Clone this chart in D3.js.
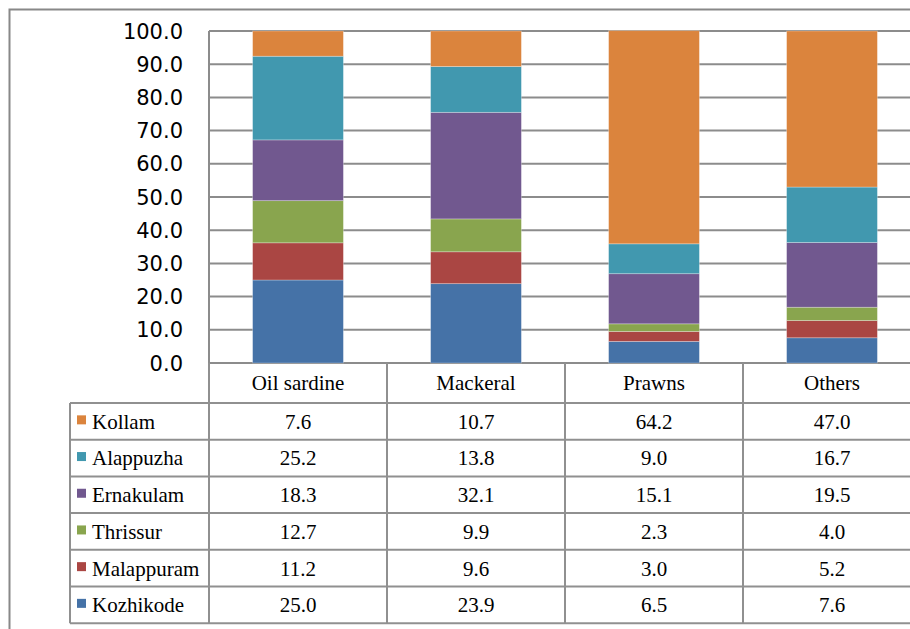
<!DOCTYPE html>
<html><head><meta charset="utf-8">
<script src="https://cdn.jsdelivr.net/npm/d3@7"></script>
<style>
body{margin:0;background:#fff}svg{display:block}
.serif{font-family:"Liberation Serif","Times New Roman",Times,"DejaVu Serif","Noto Serif",serif;font-size:21px;fill:#000}
.ylab{font-family:"DejaVu Sans","Liberation Sans",sans-serif;font-size:21px;fill:#000}
</style>
</head><body>
<script>
const categories = ["Oil sardine", "Mackeral", "Prawns", "Others"];
const seriesNames = ["Kollam", "Alappuzha", "Ernakulam", "Thrissur", "Malappuram", "Kozhikode"];
const kollam     = [7.6, 10.7, 64.2, 47.0];
const alappuzha  = [25.2, 13.8, 9.0, 16.7];
const ernakulam  = [18.3, 32.1, 15.1, 19.5];
const thrissur   = [12.7, 9.9, 2.3, 4.0];
const malappuram = [11.2, 9.6, 3.0, 5.2];
const kozhikode  = [25.0, 23.9, 6.5, 7.6];
const colors = ["#DB843D", "#4198AF", "#71588F", "#89A54E", "#AA4643", "#4572A7"];
const yTicks = [0, 10, 20, 30, 40, 50, 60, 70, 80, 90, 100];

const seriesValues = [kollam, alappuzha, ernakulam, thrissur, malappuram, kozhikode];
const W = 910, H = 629;
const svg = d3.select("body").append("svg").attr("width", W).attr("height", H);

// outer chart border
svg.append("rect").attr("x", 9.5).attr("y", 9.5).attr("width", W + 20).attr("height", H + 20)
  .attr("fill", "none").attr("stroke", "#888").attr("stroke-width", 2);

const plotL = 209, plotR = 921, plotT = 31, plotB = 363;
const x = d3.scaleBand().domain(categories).range([plotL, plotR]).paddingInner(0).paddingOuter(0);
const y = d3.scaleLinear().domain([0, 100]).range([plotB, plotT]);
const barW = x.bandwidth() * 0.51;

// gridlines
svg.append("g").selectAll("line").data(yTicks).join("line")
  .attr("x1", plotL).attr("x2", W).attr("y1", d => y(d)).attr("y2", d => y(d))
  .attr("stroke", "#8c8c8c").attr("stroke-width", 2);

// y axis labels
svg.append("g").selectAll("text").data(yTicks).join("text")
  .attr("class", "ylab")
  .attr("x", 183).attr("y", d => y(d)).attr("dy", "0.36em")
  .attr("text-anchor", "end").text(d => d.toFixed(1));

// stacked bars (bottom series = Kozhikode)
const stackOrder = seriesNames.map((n, i) => i).reverse();
categories.forEach((c, ci) => {
  let cum = 0;
  stackOrder.forEach(si => {
    const v = seriesValues[si][ci];
    svg.append("rect")
      .attr("x", x(c) + (x.bandwidth() - barW) / 2).attr("width", barW)
      .attr("y", y(cum + v)).attr("height", y(cum) - y(cum + v))
      .attr("fill", colors[si]).attr("stroke", "rgba(255,255,255,0.35)").attr("stroke-width", 0.8);
    cum += v;
  });
});

// y axis line
svg.append("line").attr("x1", plotL).attr("x2", plotL).attr("y1", plotT).attr("y2", plotB)
  .attr("stroke", "#8c8c8c").attr("stroke-width", 2);

// data table
const tableL = 70, headB = 403, rowH = 36.7;
const tbl = svg.append("g");
const rowYs = d3.range(seriesNames.length + 1).map(i => headB + i * rowH);
const lineC = "#909090";
tbl.selectAll("line.h").data(rowYs).join("line")
  .attr("x1", tableL).attr("x2", W).attr("y1", d => d).attr("y2", d => d)
  .attr("stroke", lineC).attr("stroke-width", 2);
categories.forEach(c => {
  tbl.append("line").attr("x1", x(c)).attr("x2", x(c)).attr("y1", plotB).attr("y2", rowYs[rowYs.length - 1])
    .attr("stroke", lineC).attr("stroke-width", 2);
});
tbl.append("line").attr("x1", tableL).attr("x2", tableL).attr("y1", headB).attr("y2", rowYs[rowYs.length - 1])
  .attr("stroke", lineC).attr("stroke-width", 2);

// headers
tbl.selectAll("text.cat").data(categories).join("text")
  .attr("class", "serif")
  .attr("x", d => x(d) + x.bandwidth() / 2).attr("y", (plotB + headB) / 2).attr("dy", "0.35em")
  .attr("text-anchor", "middle").text(d => d);

seriesNames.forEach((n, si) => {
  const cy = headB + si * rowH + rowH / 2;
  tbl.append("rect").attr("x", 77).attr("y", cy - 6).attr("width", 9).attr("height", 9).attr("fill", colors[si]);
  tbl.append("text").attr("class", "serif").attr("x", 92).attr("y", cy).attr("dy", "0.35em").text(n);
  categories.forEach((c, ci) => {
    tbl.append("text").attr("class", "serif").attr("x", x(c) + x.bandwidth() / 2).attr("y", cy).attr("dy", "0.35em")
      .attr("text-anchor", "middle").text(seriesValues[si][ci].toFixed(1));
  });
});
</script>
</body></html>
